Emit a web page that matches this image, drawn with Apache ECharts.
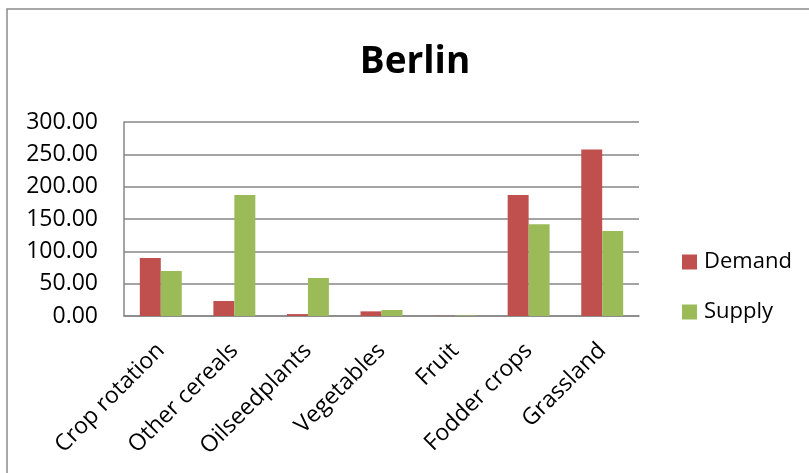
<!DOCTYPE html>
<html>
<head>
<meta charset="utf-8">
<script src="https://cdn.jsdelivr.net/npm/echarts@6/dist/echarts.min.js"></script>
<style>
  html, body { margin: 0; padding: 0; background: #fff; }
  #chart { width: 809px; height: 473px; }
</style>
</head>
<body>
<div id="chart"></div>
<script>
// Land demand vs. supply per crop group, Berlin
const categories = ['Crop rotation', 'Other cereals', 'Oilseedplants', 'Vegetables', 'Fruit', 'Fodder crops', 'Grassland'];
const demand = [89.7, 23.2, 3.0, 7.2, 0.3, 187.1, 257.3];
const supply = [69.6, 187.0, 58.8, 9.3, 0.9, 141.8, 131.4];
const yTicks = { min: 0, max: 300, interval: 50 };

const FONT = '"Open Sans", "Liberation Sans", sans-serif';
const chart = echarts.init(document.getElementById('chart'), null, { renderer: 'canvas' });

chart.setOption({
  animation: false,
  backgroundColor: '#ffffff',
  title: {
    text: 'Berlin',
    left: 410,
    textAlign: 'center',
    top: 39,
    textStyle: { fontFamily: FONT, fontWeight: 'bold', fontSize: 37, color: '#000' }
  },
  // outer chart frame
  graphic: [{
    type: 'rect',
    shape: { x: 7, y: 9, width: 830, height: 500 },
    style: { fill: null, stroke: '#8c8c8c', lineWidth: 1.5 },
    silent: true
  }],
  legend: {
    orient: 'vertical',
    left: 677,
    top: 246,
    itemWidth: 15,
    itemHeight: 15,
    itemGap: 28,
    icon: 'rect',
    textStyle: { fontFamily: FONT, fontSize: 22, color: '#000', padding: [0, 0, 0, 2] },
    data: ['Demand', 'Supply']
  },
  grid: { left: 124, right: 170, top: 122, bottom: 157, containLabel: false },
  xAxis: {
    type: 'category',
    data: categories,
    axisLine: { show: true, lineStyle: { color: '#868686', width: 1.5 } },
    axisTick: { show: false },
    axisLabel: {
      interval: 0,
      rotate: 45,
      margin: 31,
      fontFamily: FONT,
      fontSize: 23,
      color: '#000'
    }
  },
  yAxis: {
    type: 'value',
    min: yTicks.min,
    max: yTicks.max,
    interval: yTicks.interval,
    axisLine: { show: true, lineStyle: { color: '#868686', width: 1.5 } },
    axisTick: { show: false },
    splitLine: { show: true, lineStyle: { color: '#868686', width: 1.5 } },
    axisLabel: {
      margin: 26,
      fontFamily: FONT,
      fontSize: 23,
      color: '#000',
      formatter: v => v.toFixed(2)
    }
  },
  series: [
    {
      name: 'Demand',
      type: 'bar',
      data: demand,
      barGap: '0%',
      barCategoryGap: '43%',
      itemStyle: { color: '#C0504D' }
    },
    {
      name: 'Supply',
      type: 'bar',
      data: supply,
      barGap: '0%',
      barCategoryGap: '43%',
      itemStyle: { color: '#9BBB59' }
    }
  ]
});
</script>
</body>
</html>
